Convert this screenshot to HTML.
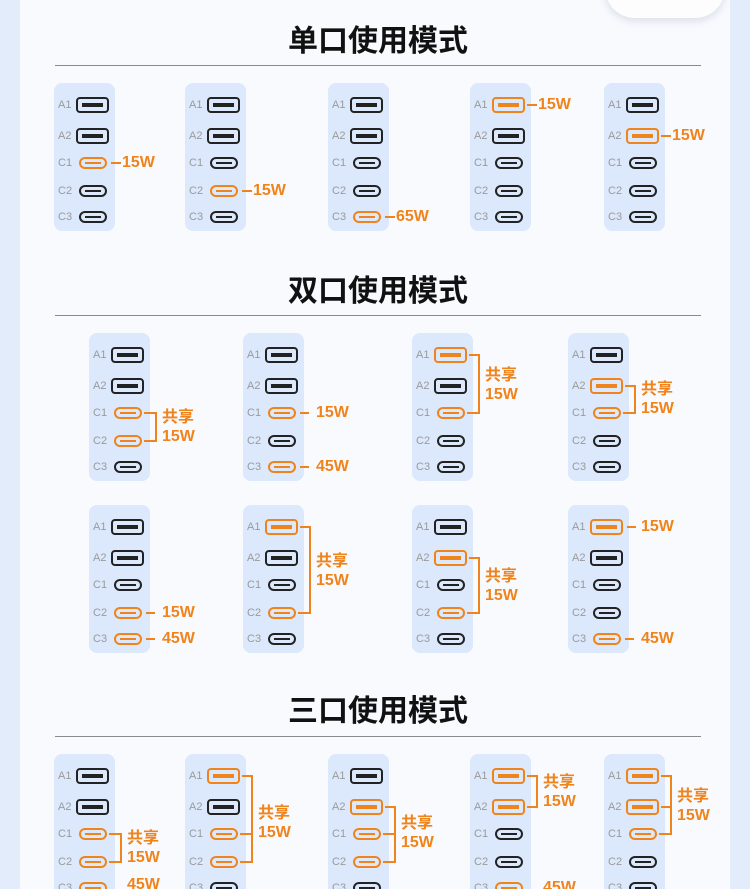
<!DOCTYPE html><html style="overflow:hidden;height:889px"><head><meta charset="utf-8"><style>
body{margin:0;width:750px;height:889px;overflow:hidden;background:#e3ecfb;position:relative;font-family:"Liberation Sans","Noto Sans CJK SC",sans-serif}
.panel{position:absolute;left:20px;top:0;width:710px;height:889px;background:#f8fafe}
.dev{position:absolute;left:605px;top:-30px;width:120px;height:48px;background:#fdfdfe;border-radius:0 0 30px 30px;box-shadow:0 3px 8px rgba(150,160,180,.3)}
.h{position:absolute;left:0;width:750px;text-align:center;font:bold 30px "Noto Sans CJK SC",sans-serif;color:#111;margin-left:3px}
.hr{position:absolute;left:55px;width:646px;height:1px;background:#8a8a8a}
.card{position:absolute;width:61px;height:148px;background:#dce8fb;border-radius:8px}
.n{position:absolute;left:4px;font-size:11px;color:#9a9a9a;line-height:14px}
.n1{top:15px}.n2{top:46px}.n3{top:73px}.n4{top:101px}.n5{top:127px}
.a,.c{position:absolute;box-sizing:border-box;border:2px solid #222}
.a{left:22px;width:33px;height:16px;border-radius:4px}
.c{left:25px;width:28px;height:12px;border-radius:6px}
.a::after,.c::after{content:"";position:absolute;background:#222;left:4px;right:4px;top:4px;height:4px}
.c::after{left:4px;right:4px;top:3px;height:2px}
.a1{top:14px}.a2{top:45px}.c1{top:74px}.c2{top:102px}.c3{top:128px}
.o{border-color:#f0841c}.o::after{background:#f0841c}
.s{position:absolute;height:2px;background:#f0841c}
.v{position:absolute;width:2px;background:#f0841c;left:66px}
.t{position:absolute;font-weight:bold;font-size:16px;line-height:19px;color:#f0841c;white-space:nowrap}
</style></head><body>
<div class="panel"></div><div class="dev"></div>

<div class="h" style="top:16px">单口使用模式</div><div class="hr" style="top:65px"></div>
<div class="h" style="top:266px">双口使用模式</div><div class="hr" style="top:315px"></div>
<div class="h" style="top:686px">三口使用模式</div><div class="hr" style="top:736px"></div>

<!-- section 1 -->
<div class="card" style="left:54px;top:83px"><span class="n n1">A1</span><span class="n n2">A2</span><span class="n n3">C1</span><span class="n n4">C2</span><span class="n n5">C3</span>
<i class="a a1"></i><i class="a a2"></i><i class="c c1 o"></i><i class="c c2"></i><i class="c c3"></i>
<i class="s" style="left:57px;width:10px;top:79px"></i><span class="t" style="left:68px;top:70px">15W</span></div>

<div class="card" style="left:185px;top:83px"><span class="n n1">A1</span><span class="n n2">A2</span><span class="n n3">C1</span><span class="n n4">C2</span><span class="n n5">C3</span>
<i class="a a1"></i><i class="a a2"></i><i class="c c1"></i><i class="c c2 o"></i><i class="c c3"></i>
<i class="s" style="left:57px;width:10px;top:107px"></i><span class="t" style="left:68px;top:98px">15W</span></div>

<div class="card" style="left:328px;top:83px"><span class="n n1">A1</span><span class="n n2">A2</span><span class="n n3">C1</span><span class="n n4">C2</span><span class="n n5">C3</span>
<i class="a a1"></i><i class="a a2"></i><i class="c c1"></i><i class="c c2"></i><i class="c c3 o"></i>
<i class="s" style="left:57px;width:10px;top:133px"></i><span class="t" style="left:68px;top:124px">65W</span></div>

<div class="card" style="left:470px;top:83px"><span class="n n1">A1</span><span class="n n2">A2</span><span class="n n3">C1</span><span class="n n4">C2</span><span class="n n5">C3</span>
<i class="a a1 o"></i><i class="a a2"></i><i class="c c1"></i><i class="c c2"></i><i class="c c3"></i>
<i class="s" style="left:57px;width:10px;top:21px"></i><span class="t" style="left:68px;top:12px">15W</span></div>

<div class="card" style="left:604px;top:83px"><span class="n n1">A1</span><span class="n n2">A2</span><span class="n n3">C1</span><span class="n n4">C2</span><span class="n n5">C3</span>
<i class="a a1"></i><i class="a a2 o"></i><i class="c c1"></i><i class="c c2"></i><i class="c c3"></i>
<i class="s" style="left:57px;width:10px;top:52px"></i><span class="t" style="left:68px;top:43px">15W</span></div>

<!-- section 2 row 1 -->
<div class="card" style="left:89px;top:333px"><span class="n n1">A1</span><span class="n n2">A2</span><span class="n n3">C1</span><span class="n n4">C2</span><span class="n n5">C3</span>
<i class="a a1"></i><i class="a a2"></i><i class="c c1 o"></i><i class="c c2 o"></i><i class="c c3"></i>
<i class="s" style="left:55px;width:13px;top:79px"></i><i class="s" style="left:55px;width:13px;top:107px"></i><i class="v" style="top:79px;height:30px"></i>
<span class="t" style="left:73px;top:75px">共享<br>15W</span></div>

<div class="card" style="left:243px;top:333px"><span class="n n1">A1</span><span class="n n2">A2</span><span class="n n3">C1</span><span class="n n4">C2</span><span class="n n5">C3</span>
<i class="a a1"></i><i class="a a2"></i><i class="c c1 o"></i><i class="c c2"></i><i class="c c3 o"></i>
<i class="s" style="left:57px;width:9px;top:79px"></i><span class="t" style="left:73px;top:70px">15W</span>
<i class="s" style="left:57px;width:9px;top:133px"></i><span class="t" style="left:73px;top:124px">45W</span></div>

<div class="card" style="left:412px;top:333px"><span class="n n1">A1</span><span class="n n2">A2</span><span class="n n3">C1</span><span class="n n4">C2</span><span class="n n5">C3</span>
<i class="a a1 o"></i><i class="a a2"></i><i class="c c1 o"></i><i class="c c2"></i><i class="c c3"></i>
<i class="s" style="left:57px;width:11px;top:21px"></i><i class="s" style="left:55px;width:13px;top:79px"></i><i class="v" style="top:21px;height:60px"></i>
<span class="t" style="left:73px;top:33px">共享<br>15W</span></div>

<div class="card" style="left:568px;top:333px"><span class="n n1">A1</span><span class="n n2">A2</span><span class="n n3">C1</span><span class="n n4">C2</span><span class="n n5">C3</span>
<i class="a a1"></i><i class="a a2 o"></i><i class="c c1 o"></i><i class="c c2"></i><i class="c c3"></i>
<i class="s" style="left:57px;width:11px;top:52px"></i><i class="s" style="left:55px;width:13px;top:79px"></i><i class="v" style="top:52px;height:29px"></i>
<span class="t" style="left:73px;top:47px">共享<br>15W</span></div>

<!-- section 2 row 2 -->
<div class="card" style="left:89px;top:505px"><span class="n n1">A1</span><span class="n n2">A2</span><span class="n n3">C1</span><span class="n n4">C2</span><span class="n n5">C3</span>
<i class="a a1"></i><i class="a a2"></i><i class="c c1"></i><i class="c c2 o"></i><i class="c c3 o"></i>
<i class="s" style="left:57px;width:9px;top:107px"></i><span class="t" style="left:73px;top:98px">15W</span>
<i class="s" style="left:57px;width:9px;top:133px"></i><span class="t" style="left:73px;top:124px">45W</span></div>

<div class="card" style="left:243px;top:505px"><span class="n n1">A1</span><span class="n n2">A2</span><span class="n n3">C1</span><span class="n n4">C2</span><span class="n n5">C3</span>
<i class="a a1 o"></i><i class="a a2"></i><i class="c c1"></i><i class="c c2 o"></i><i class="c c3"></i>
<i class="s" style="left:57px;width:11px;top:21px"></i><i class="s" style="left:55px;width:13px;top:107px"></i><i class="v" style="top:21px;height:88px"></i>
<span class="t" style="left:73px;top:47px">共享<br>15W</span></div>

<div class="card" style="left:412px;top:505px"><span class="n n1">A1</span><span class="n n2">A2</span><span class="n n3">C1</span><span class="n n4">C2</span><span class="n n5">C3</span>
<i class="a a1"></i><i class="a a2 o"></i><i class="c c1"></i><i class="c c2 o"></i><i class="c c3"></i>
<i class="s" style="left:57px;width:11px;top:52px"></i><i class="s" style="left:55px;width:13px;top:107px"></i><i class="v" style="top:52px;height:57px"></i>
<span class="t" style="left:73px;top:62px">共享<br>15W</span></div>

<div class="card" style="left:568px;top:505px"><span class="n n1">A1</span><span class="n n2">A2</span><span class="n n3">C1</span><span class="n n4">C2</span><span class="n n5">C3</span>
<i class="a a1 o"></i><i class="a a2"></i><i class="c c1"></i><i class="c c2"></i><i class="c c3 o"></i>
<i class="s" style="left:59px;width:9px;top:21px"></i><span class="t" style="left:73px;top:12px">15W</span>
<i class="s" style="left:57px;width:9px;top:133px"></i><span class="t" style="left:73px;top:124px">45W</span></div>

<!-- section 3 -->
<div class="card" style="left:54px;top:754px"><span class="n n1">A1</span><span class="n n2">A2</span><span class="n n3">C1</span><span class="n n4">C2</span><span class="n n5">C3</span>
<i class="a a1"></i><i class="a a2"></i><i class="c c1 o"></i><i class="c c2 o"></i><i class="c c3 o"></i>
<i class="s" style="left:55px;width:13px;top:79px"></i><i class="s" style="left:55px;width:13px;top:107px"></i><i class="v" style="top:79px;height:30px"></i>
<span class="t" style="left:73px;top:75px">共享<br>15W</span><span class="t" style="left:73px;top:121px">45W</span></div>

<div class="card" style="left:185px;top:754px"><span class="n n1">A1</span><span class="n n2">A2</span><span class="n n3">C1</span><span class="n n4">C2</span><span class="n n5">C3</span>
<i class="a a1 o"></i><i class="a a2"></i><i class="c c1 o"></i><i class="c c2 o"></i><i class="c c3"></i>
<i class="s" style="left:57px;width:11px;top:21px"></i><i class="s" style="left:55px;width:13px;top:79px"></i><i class="s" style="left:55px;width:13px;top:107px"></i><i class="v" style="top:21px;height:88px"></i>
<span class="t" style="left:73px;top:50px">共享<br>15W</span></div>

<div class="card" style="left:328px;top:754px"><span class="n n1">A1</span><span class="n n2">A2</span><span class="n n3">C1</span><span class="n n4">C2</span><span class="n n5">C3</span>
<i class="a a1"></i><i class="a a2 o"></i><i class="c c1 o"></i><i class="c c2 o"></i><i class="c c3"></i>
<i class="s" style="left:57px;width:11px;top:52px"></i><i class="s" style="left:55px;width:13px;top:79px"></i><i class="s" style="left:55px;width:13px;top:107px"></i><i class="v" style="top:52px;height:57px"></i>
<span class="t" style="left:73px;top:60px">共享<br>15W</span></div>

<div class="card" style="left:470px;top:754px"><span class="n n1">A1</span><span class="n n2">A2</span><span class="n n3">C1</span><span class="n n4">C2</span><span class="n n5">C3</span>
<i class="a a1 o"></i><i class="a a2 o"></i><i class="c c1"></i><i class="c c2"></i><i class="c c3 o"></i>
<i class="s" style="left:57px;width:11px;top:21px"></i><i class="s" style="left:57px;width:11px;top:52px"></i><i class="v" style="top:21px;height:33px"></i>
<span class="t" style="left:73px;top:19px">共享<br>15W</span><span class="t" style="left:73px;top:124px">45W</span></div>

<div class="card" style="left:604px;top:754px"><span class="n n1">A1</span><span class="n n2">A2</span><span class="n n3">C1</span><span class="n n4">C2</span><span class="n n5">C3</span>
<i class="a a1 o"></i><i class="a a2 o"></i><i class="c c1 o"></i><i class="c c2"></i><i class="c c3"></i>
<i class="s" style="left:57px;width:11px;top:21px"></i><i class="s" style="left:57px;width:11px;top:52px"></i><i class="s" style="left:55px;width:13px;top:79px"></i><i class="v" style="top:21px;height:60px"></i>
<span class="t" style="left:73px;top:33px">共享<br>15W</span></div>
</body></html>
